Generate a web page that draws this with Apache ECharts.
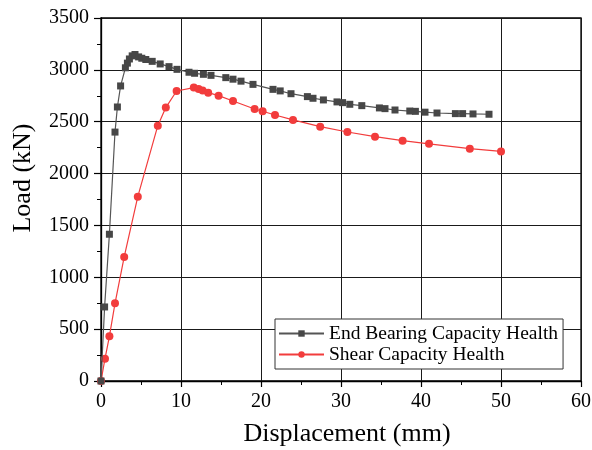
<!DOCTYPE html>
<html>
<head>
<meta charset="utf-8">
<script src="https://cdn.jsdelivr.net/npm/echarts@6/dist/echarts.min.js"></script>
<style>
  html, body { margin: 0; padding: 0; background: #fff; }
  #chart { width: 592px; height: 450px; }
</style>
</head>
<body>
<div id="chart"></div>
<script>
// Load–displacement curves (displacement in mm, load in kN)
var endBearingDisp = [0, 0.45, 1.05, 1.75, 2.05, 2.45, 3.05, 3.3, 3.55, 3.9, 4.25, 4.7, 5.1, 5.6, 6.4, 7.4, 8.5, 9.5, 11.0, 11.7, 12.8, 13.75, 15.6, 16.5, 17.5, 19.0, 21.5, 22.4, 23.75, 25.8, 26.5, 27.8, 29.5, 30.2, 31.1, 32.6, 34.8, 35.5, 36.75, 38.6, 39.3, 40.5, 42.0, 44.3, 45.2, 46.5, 48.5];
var endBearingLoad = [0, 714, 1415, 2400, 2642, 2845, 3020, 3065, 3105, 3135, 3148, 3125, 3112, 3100, 3082, 3057, 3031, 3005, 2977, 2967, 2957, 2947, 2925, 2910, 2891, 2860, 2812, 2797, 2770, 2742, 2726, 2710, 2691, 2684, 2668, 2655, 2633, 2626, 2613, 2603, 2600, 2592, 2584, 2578, 2578, 2575, 2572];

var shearDisp = [0, 0.5, 1.05, 1.75, 2.9, 4.6, 7.1, 8.1, 9.45, 11.6, 12.2, 12.7, 13.4, 14.7, 16.5, 19.2, 20.2, 21.75, 24.0, 27.4, 30.8, 34.25, 37.7, 41.0, 46.1, 50.0];
var shearLoad = [0, 215, 431, 749, 1196, 1777, 2462, 2636, 2796, 2829, 2816, 2800, 2780, 2751, 2700, 2623, 2601, 2565, 2517, 2452, 2401, 2356, 2317, 2287, 2240, 2214];

var seriesNames = ['End Bearing Capacity Health', 'Shear Capacity Health'];
var xTitle = 'Displacement (mm)';
var yTitle = 'Load (kN)';

// Axis ranges and tick steps
var xTicks = [0, 10, 20, 30, 40, 50, 60];
var yTicks = [0, 500, 1000, 1500, 2000, 2500, 3000, 3500];

function pairs(xs, ys) {
  return xs.map(function (x, i) { return [x, ys[i]]; });
}

var serif = '"Liberation Serif", "Times New Roman", serif';

var chart = echarts.init(document.getElementById('chart'), null, { renderer: 'canvas' });

function axisCommon(tickLen, minorLen, labelMargin) {
  return {
    axisLine: { show: true, lineStyle: { color: '#000', width: 1.3 } },
    axisTick: { show: true, inside: false, length: tickLen, lineStyle: { color: '#000', width: 1.2 } },
    minorTick: { show: true, splitNumber: 2, length: minorLen, lineStyle: { color: '#000', width: 1 } },
    splitLine: { show: true, lineStyle: { color: '#1a1a1a', width: 1 } },
    axisLabel: {
      color: '#000', fontFamily: serif, fontSize: 20, margin: labelMargin,
      formatter: function (v) { return String(v); }
    }
  };
}

var xAxis = Object.assign(axisCommon(6, 4, 11), {
  type: 'value',
  min: xTicks[0],
  max: xTicks[xTicks.length - 1],
  interval: xTicks[1] - xTicks[0]
});

var yAxis = Object.assign(axisCommon(7, 4, 12), {
  type: 'value',
  min: yTicks[0],
  max: yTicks[yTicks.length - 1],
  interval: yTicks[1] - yTicks[0]
});

chart.setOption({
  backgroundColor: '#fff',
  animation: false,
  grid: {
    left: 101, right: 11, top: 18, bottom: 69,
    containLabel: false,
    outerBoundsMode: 'none',
    show: true, borderColor: '#000', borderWidth: 1.3, backgroundColor: 'transparent'
  },
  xAxis: xAxis,
  yAxis: yAxis,
  // Axis titles
  graphic: [
    {
      type: 'text',
      x: 347, y: 434,
      style: {
        text: xTitle, fill: '#000', fontFamily: serif, fontSize: 26,
        align: 'center', verticalAlign: 'middle'
      }
    },
    {
      type: 'text',
      x: 23, y: 178,
      rotation: Math.PI / 2,
      style: {
        text: yTitle, fill: '#000', fontFamily: serif, fontSize: 26,
        align: 'center', verticalAlign: 'middle'
      }
    }
  ],
  legend: {
    orient: 'vertical',
    left: 275,
    top: 319,
    data: seriesNames,
    backgroundColor: '#fff',
    borderColor: '#333',
    borderWidth: 1,
    borderRadius: 0,
    padding: [4, 5, 4, 3],
    itemGap: 0,
    itemWidth: 45,
    itemHeight: 8,
    textStyle: { color: '#000', fontFamily: serif, fontSize: 19.5, lineHeight: 21 }
  },
  series: [
    {
      name: seriesNames[0],
      type: 'line',
      data: pairs(endBearingDisp, endBearingLoad),
      symbol: 'rect',
      symbolSize: 7,
      itemStyle: { color: '#474747' },
      lineStyle: { color: '#555', width: 1.2 },
      z: 3
    },
    {
      name: seriesNames[1],
      type: 'line',
      data: pairs(shearDisp, shearLoad),
      symbol: 'circle',
      symbolSize: 8,
      itemStyle: { color: '#f23c3c' },
      lineStyle: { color: '#f23c3c', width: 1.2 },
      z: 2
    }
  ]
});
</script>
</body>
</html>
